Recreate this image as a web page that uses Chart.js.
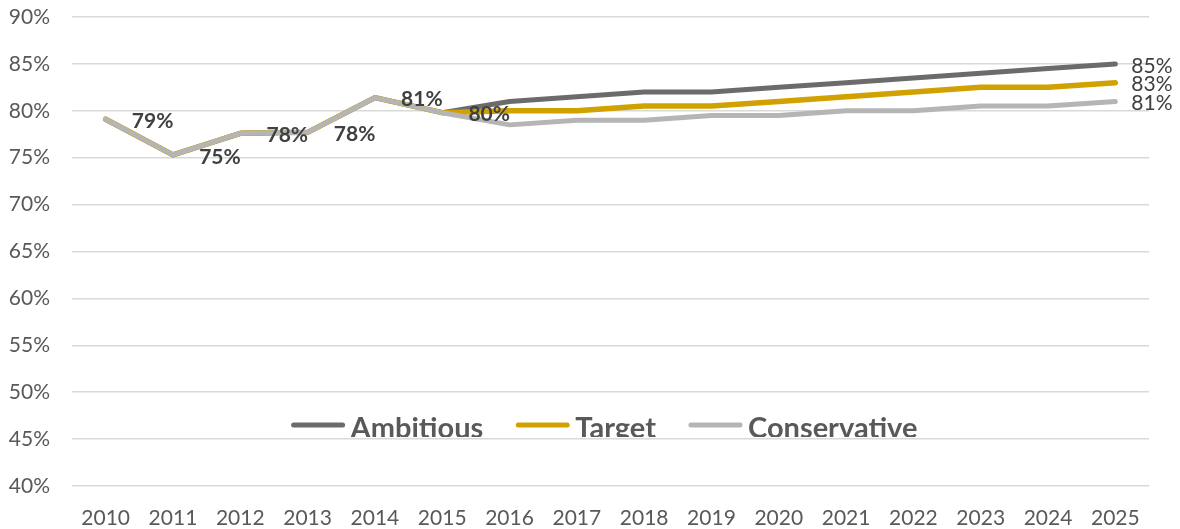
<!DOCTYPE html>
<html>
<head>
<meta charset="utf-8">
<script src="https://cdn.jsdelivr.net/npm/chart.js@4/dist/chart.umd.min.js"></script>
<style>
  html, body { margin: 0; padding: 0; background: #fff; }
  #wrap { width: 1180px; height: 529px; position: relative; }
</style>
</head>
<body>
<div id="wrap"><canvas id="c" width="1180" height="529"></canvas></div>
<script>
// Yearly share, history 2010-2015 then three forecast scenarios
const years = ['2010','2011','2012','2013','2014','2015','2016','2017','2018','2019','2020','2021','2022','2023','2024','2025'];
const ambitious    = [79.1, 75.3, 77.6, 77.7, 81.4, 79.8, 81.0, 81.5, 82.0, 82.0, 82.5, 83.0, 83.5, 84.0, 84.5, 85.0];
const target       = [79.1, 75.3, 77.6, 77.7, 81.4, 79.8, 80.0, 80.0, 80.5, 80.5, 81.0, 81.5, 82.0, 82.5, 82.5, 83.0];
const conservative = [79.1, 75.3, 77.6, 77.7, 81.4, 79.8, 78.5, 79.0, 79.0, 79.5, 79.5, 80.0, 80.0, 80.5, 80.5, 81.0];
const seriesNames  = ['Ambitious', 'Target', 'Conservative'];
const seriesColors = ['#6b6b6b', '#d1a100', '#b5b5b5'];
const historyEnd = 5; // index of 2015, last actual year
const yMin = 40, yMax = 90, yStep = 5;

const FONT = 'Lato, "Open Sans", sans-serif';

// Labels: actual values beside history points, scenario values at the last year
const valueLabels = {
  id: 'valueLabels',
  afterDatasetsDraw(chart) {
    const ctx = chart.ctx;
    ctx.save();
    ctx.fillStyle = '#404040';
    ctx.textBaseline = 'middle';
    // history labels (shared by all scenarios; read from the top-drawn series)
    const topIdx = 2;
    const metaTop = chart.getDatasetMeta(topIdx);
    ctx.font = 'bold 21px ' + FONT;
    ctx.textAlign = 'center';
    for (let i = 0; i <= historyEnd; i++) {
      const p = metaTop.data[i];
      const v = chart.data.datasets[topIdx].data[i];
      ctx.fillText(Math.round(v) + '%', p.x + 47, p.y + 2);
    }
    // final-year labels
    ctx.font = '21px ' + FONT;
    ctx.textAlign = 'left';
    chart.data.datasets.forEach((ds, di) => {
      const meta = chart.getDatasetMeta(di);
      const last = ds.data.length - 1;
      const p = meta.data[last];
      ctx.fillText(Math.round(ds.data[last]) + '%', p.x + 16, p.y + 2);
    });
    ctx.restore();
  }
};

// Legend drawn inside the plot area, clipped just above the 45% gridline
const innerLegend = {
  id: 'innerLegend',
  afterDraw(chart) {
    const ctx = chart.ctx;
    const y = chart.scales.y;
    const clipBottom = y.getPixelForValue(45) - 2;
    ctx.save();
    ctx.beginPath();
    ctx.rect(chart.chartArea.left, clipBottom - 40, chart.chartArea.right - chart.chartArea.left, 40);
    ctx.clip();
    ctx.font = 'bold 29px ' + FONT;
    ctx.textBaseline = 'alphabetic';
    ctx.textAlign = 'left';
    const sample = 55, gap = 5, spacing = 32;
    const items = chart.data.datasets.map(ds => ({ text: ds.label, color: ds.borderColor, w: ctx.measureText(ds.label).width }));
    const total = items.reduce((s, it) => s + sample + gap + it.w, 0) + spacing * (items.length - 1);
    let x = 604 - total / 2;
    const lineY = 425;
    const baseY = clipBottom + 1;
    items.forEach(it => {
      ctx.strokeStyle = it.color;
      ctx.lineWidth = 5;
      ctx.lineCap = 'round';
      ctx.beginPath();
      ctx.moveTo(x + 3, lineY);
      ctx.lineTo(x + sample - 3, lineY);
      ctx.stroke();
      x += sample + gap;
      ctx.fillStyle = '#595959';
      ctx.fillText(it.text, x, baseY);
      x += it.w + spacing;
    });
    ctx.restore();
  }
};

const seriesData = [ambitious, target, conservative];

new Chart(document.getElementById('c'), {
  type: 'line',
  data: {
    labels: years,
    datasets: seriesData.map((d, i) => ({
      label: seriesNames[i],
      data: d,
      borderColor: seriesColors[i],
      backgroundColor: seriesColors[i],
      borderWidth: i === 1 ? 5.5 : 5,
      borderCapStyle: 'round',
      borderJoinStyle: 'round',
      pointRadius: 0,
      tension: 0,
      fill: false,
      order: 2 - i
    }))
  },
  options: {
    responsive: false,
    animation: false,
    devicePixelRatio: 1,
    layout: { padding: { left: 0, right: 31, top: 17, bottom: 0 } },
    plugins: {
      legend: { display: false },
      tooltip: { enabled: false }
    },
    scales: {
      x: {
        offset: true,
        grid: { display: false, drawTicks: false },
        border: { display: false },
        ticks: {
          color: '#595959',
          font: { family: FONT, size: 21 },
          padding: 20,
          maxRotation: 0,
          autoSkip: false
        },
        afterFit(scale) { scale.height = 43; }
      },
      y: {
        min: yMin,
        max: yMax,
        grid: { color: '#d9d9d9', lineWidth: 1.5, drawTicks: false },
        border: { display: false },
        ticks: {
          stepSize: yStep,
          color: '#595959',
          font: { family: FONT, size: 21 },
          padding: 22,
          callback: v => v + '%'
        },
        afterFit(scale) {
          scale.width = 72;
          scale.paddingTop = 0;
          scale.paddingBottom = 0;
        }
      }
    }
  },
  plugins: [valueLabels, innerLegend]
});
</script>
</body>
</html>
